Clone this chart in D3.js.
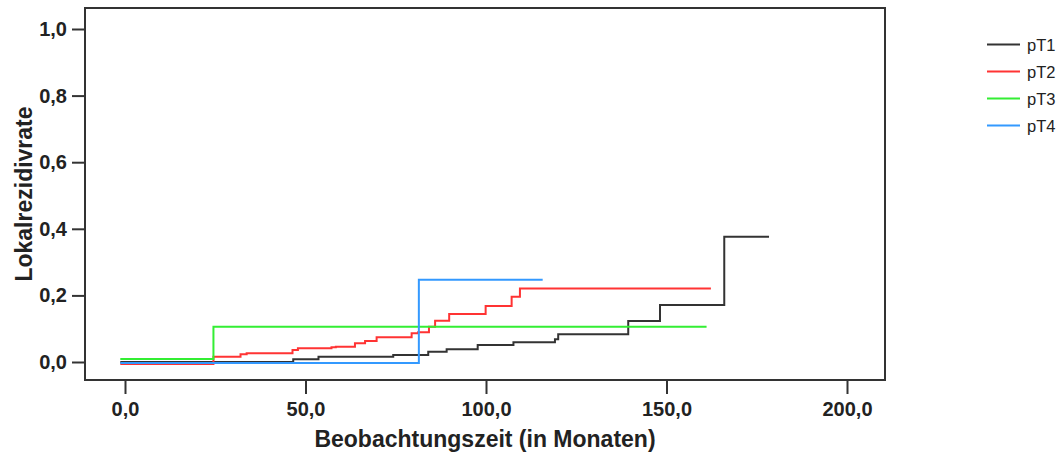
<!DOCTYPE html>
<html>
<head>
<meta charset="utf-8">
<script src="https://cdn.jsdelivr.net/npm/d3@7"></script>
<style>
  body { margin: 0; background: #fff; }
  svg { display: block; font-family: "Liberation Sans", Arial, sans-serif; }
</style>
</head>
<body>
<svg id="chart" width="1061" height="452"></svg>
<script>
// Beobachtungszeit (Monate) und kumulative Lokalrezidivrate je Gruppe
const timePT1 = [-1.3, 46.6, 53.6, 74.3, 84.0, 89.1, 97.7, 107.6, 119.1, 120.0, 139.4, 148.2, 166.0, 178.4];
const ratePT1 = [0, 0.008, 0.016, 0.021, 0.031, 0.038, 0.051, 0.059, 0.068, 0.083, 0.123, 0.171, 0.376, 0.376];
const timePT2 = [-1.3, 24.5, 32.0, 33.7, 46.4, 47.9, 57.2, 58.4, 63.7, 66.5, 69.7, 79.4, 81.2, 84.2, 85.9, 89.8, 99.9, 107.1, 109.4, 162.3];
const ratePT2 = [0, 0.022, 0.029, 0.032, 0.042, 0.047, 0.050, 0.052, 0.062, 0.069, 0.080, 0.092, 0.095, 0.112, 0.130, 0.150, 0.174, 0.202, 0.227, 0.227];
const timePT3 = [-1.3, 24.5, 161.1];
const ratePT3 = [0, 0.097, 0.097];
const timePT4 = [-1.3, 81.4, 115.7];
const ratePT4 = [0, 0.25, 0.25];

const groups = ['pT1', 'pT2', 'pT3', 'pT4'];
const xTicks = [0, 50, 100, 150, 200];
const yTicks = [0, 0.2, 0.4, 0.6, 0.8, 1.0];

const color = ['#333333', '#ff3333', '#33ee33', '#3399ff'];
const offset = [0, 2, -3, 1]; // kleine Versetzung der Linien wie im Original

const series = [
  { name: groups[0], t: timePT1, v: ratePT1 },
  { name: groups[1], t: timePT2, v: ratePT2 },
  { name: groups[2], t: timePT3, v: ratePT3 },
  { name: groups[3], t: timePT4, v: ratePT4 }
];

const svg = d3.select('#chart');
const frame = { left: 85, top: 8, right: 885, bottom: 380 };

const de = d3.formatLocale({ decimal: ',', thousands: '.', grouping: [3], currency: ['', ' €'] });
const fmt = de.format('.1f');

const x = d3.scaleLinear().domain([0, 200]).range([125, 847]);
const y = d3.scaleLinear().domain([0, 1]).range([362, 29]);

// Rahmen
svg.append('rect')
  .attr('x', frame.left)
  .attr('y', frame.top)
  .attr('width', frame.right - frame.left)
  .attr('height', frame.bottom - frame.top)
  .attr('fill', 'none')
  .attr('stroke', '#333')
  .attr('stroke-width', 2);

// x-Achse
const xAxis = d3.axisBottom(x)
  .tickValues(xTicks)
  .tickSize(14)
  .tickSizeOuter(0)
  .tickPadding(8)
  .tickFormat(fmt);
const gx = svg.append('g')
  .attr('class', 'axis x')
  .attr('transform', `translate(0,${frame.bottom})`)
  .call(xAxis);
gx.select('.domain').remove();
gx.selectAll('.tick line').attr('stroke', '#333').attr('stroke-width', 2);
gx.selectAll('.tick text')
  .attr('fill', '#222')
  .attr('font-size', 20)
  .attr('font-weight', 'bold')
  .attr('font-family', '"Liberation Sans", Arial, sans-serif');

// y-Achse
const yAxis = d3.axisLeft(y)
  .tickValues(yTicks)
  .tickSize(13)
  .tickSizeOuter(0)
  .tickPadding(5)
  .tickFormat(fmt);
const gy = svg.append('g')
  .attr('class', 'axis y')
  .attr('transform', `translate(${frame.left},0)`)
  .call(yAxis);
gy.select('.domain').remove();
gy.selectAll('.tick line').attr('stroke', '#333').attr('stroke-width', 2);
gy.selectAll('.tick text')
  .attr('fill', '#222')
  .attr('font-size', 20)
  .attr('font-weight', 'bold')
  .attr('font-family', '"Liberation Sans", Arial, sans-serif');

// Achsentitel
svg.append('text')
  .attr('x', (frame.left + frame.right) / 2)
  .attr('y', 447)
  .attr('text-anchor', 'middle')
  .attr('font-size', 23)
  .attr('font-weight', 'bold')
  .attr('fill', '#222')
  .text('Beobachtungszeit (in Monaten)');
svg.append('text')
  .attr('transform', `translate(32,${(frame.top + frame.bottom) / 2}) rotate(-90)`)
  .attr('text-anchor', 'middle')
  .attr('font-size', 23)
  .attr('font-weight', 'bold')
  .attr('fill', '#222')
  .text('Lokalrezidivrate');

// Treppenkurven
const line = d3.line()
  .x(d => x(d[0]))
  .y(d => y(d[1]))
  .curve(d3.curveStepAfter);
const curves = svg.append('g').attr('class', 'curves');
series.forEach((s, i) => {
  curves.append('path')
    .datum(s.t.map((t, j) => [t, s.v[j]]))
    .attr('transform', `translate(0,${offset[i]})`)
    .attr('fill', 'none')
    .attr('stroke', color[i])
    .attr('stroke-width', 2)
    .attr('d', line);
});

// Legende
const legend = svg.append('g').attr('class', 'legend');
groups.forEach((g, i) => {
  const ly = 44.5 + i * 27;
  legend.append('line')
    .attr('x1', 987)
    .attr('x2', 1020)
    .attr('y1', ly)
    .attr('y2', ly)
    .attr('stroke', color[i])
    .attr('stroke-width', 2);
  legend.append('text')
    .attr('x', 1027)
    .attr('y', ly + 6)
    .attr('font-size', 16.5)
    .attr('fill', '#222')
    .text(g);
});
</script>
</body>
</html>
